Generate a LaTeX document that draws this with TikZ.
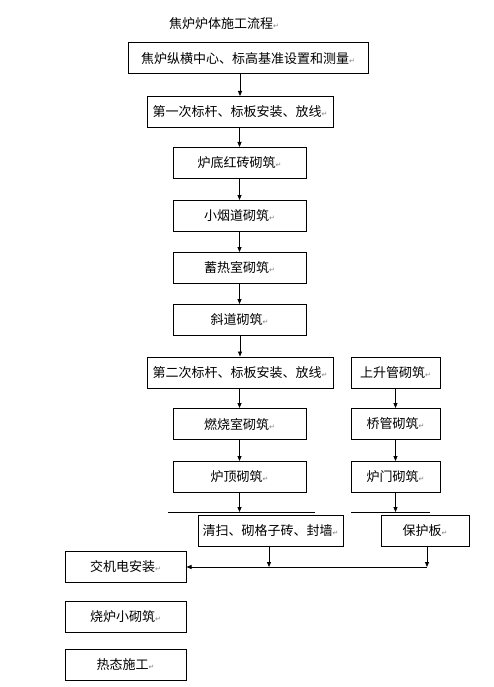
\documentclass[tikz,border=0pt]{standalone}
\usepackage{fontspec}
\newfontfamily\cjk{Noto Sans CJK SC}
\newfontfamily\djv{DejaVu Sans}
\usetikzlibrary{arrows.meta,positioning}
\newcommand{\pmark}{{\djv\color{gray}\fontsize{7}{7}\selectfont ↵}}

\begin{document}
\begin{tikzpicture}[x=1pt, y=-1pt, >={Triangle[length=5pt,width=4pt]},
  every node/.style={font=\cjk\fontsize{13}{15}\selectfont},
  stepbox/.style={draw, line width=1pt, minimum height=31pt, inner sep=1pt},
  flow/.style={->, line width=0.8pt}]
  \useasboundingbox (0,0) rectangle (494,687);

  % ===== Title =====
  \node (title) at (224,24) {焦炉炉体施工流程\pmark};

  % ===== Main column =====
  \node[stepbox, minimum width=240pt] (s1) at (248,58.5) {焦炉纵横中心、标高基准设置和测量\pmark};
  \node[stepbox, minimum width=186pt] (s2) at (240,112) {第一次标杆、标板安装、放线\pmark};
  \node[stepbox, minimum width=133pt] (s3) at (239.5,163) {炉底红砖砌筑\pmark};
  \node[stepbox, minimum width=133pt] (s4) at (239.5,216) {小烟道砌筑\pmark};
  \node[stepbox, minimum width=133pt] (s5) at (239.5,268) {蓄热室砌筑\pmark};
  \node[stepbox, minimum width=133pt] (s6) at (239.5,320) {斜道砌筑\pmark};
  \node[stepbox, minimum width=186pt] (s7) at (240,372.5) {第二次标杆、标板安装、放线\pmark};
  \node[stepbox, minimum width=133pt] (s8) at (239.5,424) {燃烧室砌筑\pmark};
  \node[stepbox, minimum width=133pt] (s9) at (239.5,477) {炉顶砌筑\pmark};

  % ===== Right column =====
  \node[stepbox, minimum width=89pt] (r1) at (395.5,372.5) {上升管砌筑\pmark};
  \node[stepbox, minimum width=89pt] (r2) at (395.5,424) {桥管砌筑\pmark};
  \node[stepbox, minimum width=89pt] (r3) at (395.5,477) {炉门砌筑\pmark};

  % ===== Lower boxes =====
  \node[stepbox, minimum width=145pt] (clean) at (270.5,531) {清扫、砌格子砖、封墙\pmark};
  \node[stepbox, minimum width=88pt] (plate) at (425,531) {保护板\pmark};
  \node[stepbox, minimum width=121pt] (hand) at (125.5,567) {交机电安装\pmark};
  \node[stepbox, minimum width=121pt] (oven) at (125.5,616.5) {烧炉小砌筑\pmark};
  \node[stepbox, minimum width=121pt] (hot) at (125.5,664.5) {热态施工\pmark};

  % Arrows down the columns
  \foreach \a/\b in {s1/s2,s2/s3,s3/s4,s4/s5,s5/s6,s6/s7,s7/s8,s8/s9,r1/r2,r2/r3}
    \draw[flow] (\a.south -| \b.north) -- (\b.north);

  % Stub lines above the lower boxes
  \coordinate (ml) at (168,512);
  \coordinate (mr) at (315,512);
  \coordinate (rl) at (351,512);
  \coordinate (rr) at (430,512);
  \draw[line width=1pt] (ml) -- (mr);
  \draw[line width=1pt] (rl) -- (rr);
  \draw[flow] (s9.south) -- (s9.south |- ml);
  \draw[flow] (r3.south) -- (r3.south |- rl);

  % Joining line to hand-over box
  \coordinate (jc) at (269,567);
  \coordinate (jp) at (427,567);
  \draw[flow] (clean.south -| jc) -- (jc);
  \draw[flow] (plate.south -| jp) -- (jp);
  \draw[flow] (jp) -- (hand.east);

\end{tikzpicture}
\end{document}
